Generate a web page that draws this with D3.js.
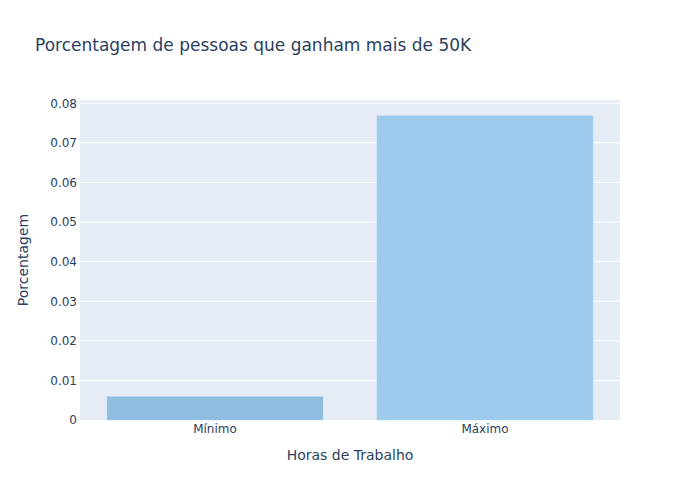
<!DOCTYPE html>
<meta charset="utf-8">
<style>
body { margin: 0; background: #fff; }
text { font-family: "DejaVu Sans", verdana, sans-serif; fill: #2a3f5f; }
.grid line { stroke: #fff; stroke-width: 1px; }
</style>
<body>
<script src="https://d3js.org/d3.v7.min.js"></script>
<script>

var categories = ["Mínimo", "Máximo"],
    values = [0.0059, 0.0768],
    colors = ["#8fbde0", "#9ecbed"],
    yTicks = [0, 0.01, 0.02, 0.03, 0.04, 0.05, 0.06, 0.07, 0.08];

var width = 700,
    height = 500,
    margin = {top: 100, right: 80, bottom: 80, left: 80};

var svg = d3.select("body").append("svg")
    .attr("width", width)
    .attr("height", height);

var x = d3.scaleBand()
    .domain(categories)
    .range([margin.left, width - margin.right])
    .paddingInner(0.2)
    .paddingOuter(0.1);

var y = d3.scaleLinear()
    .domain([0, 0.0808])
    .range([height - margin.bottom, margin.top]);

svg.append("rect")
    .attr("x", margin.left)
    .attr("y", margin.top)
    .attr("width", width - margin.left - margin.right)
    .attr("height", height - margin.top - margin.bottom)
    .attr("fill", "#e5ecf6");

// grid
svg.append("g")
    .attr("class", "grid")
  .selectAll("line")
    .data(yTicks.slice(1))
  .enter().append("line")
    .attr("x1", margin.left)
    .attr("x2", width - margin.right)
    .attr("y1", function(d) { return y(d); })
    .attr("y2", function(d) { return y(d); });

svg.append("g")
  .selectAll("rect")
    .data(values)
  .enter().append("rect")
    .attr("x", function(d, i) { return x(categories[i]); })
    .attr("width", x.bandwidth())
    .attr("y", function(d) { return y(d); })
    .attr("height", function(d) { return y(0) - y(d); })
    .attr("fill", function(d, i) { return colors[i]; })
    .attr("stroke", "#a8d2f0")
    .attr("stroke-width", 0.5);

var font = "'DejaVu Sans', verdana, sans-serif";

// y axis
var yAxis = svg.append("g")
    .attr("transform", "translate(" + margin.left + ",0)")
    .call(d3.axisLeft(y).tickValues(yTicks).tickSize(0).tickPadding(3)
      .tickFormat(function(d) { return d === 0 ? "0" : d3.format(".2f")(d); }));
yAxis.select(".domain").remove();
yAxis.selectAll("text").attr("font-size", 12).attr("fill", "#2a3f5f")
    .style("font-family", font);

// x axis
var xAxis = svg.append("g")
    .attr("transform", "translate(0," + (height - margin.bottom) + ")")
    .call(d3.axisBottom(x).tickSize(0).tickPadding(4));
xAxis.select(".domain").remove();
xAxis.selectAll("text").attr("font-size", 12).attr("fill", "#2a3f5f")
    .style("font-family", font);

svg.append("text")
    .attr("x", 35)
    .attr("y", 51)
    .attr("font-size", 17)
    .text("Porcentagem de pessoas que ganham mais de 50K");

svg.append("text")
    .attr("x", (margin.left + width - margin.right) / 2)
    .attr("y", 460)
    .attr("text-anchor", "middle")
    .attr("font-size", 14)
    .text("Horas de Trabalho");

svg.append("text")
    .attr("transform", "translate(28," + ((margin.top + height - margin.bottom) / 2) + ") rotate(-90)")
    .attr("text-anchor", "middle")
    .attr("font-size", 14)
    .text("Porcentagem");

</script>
